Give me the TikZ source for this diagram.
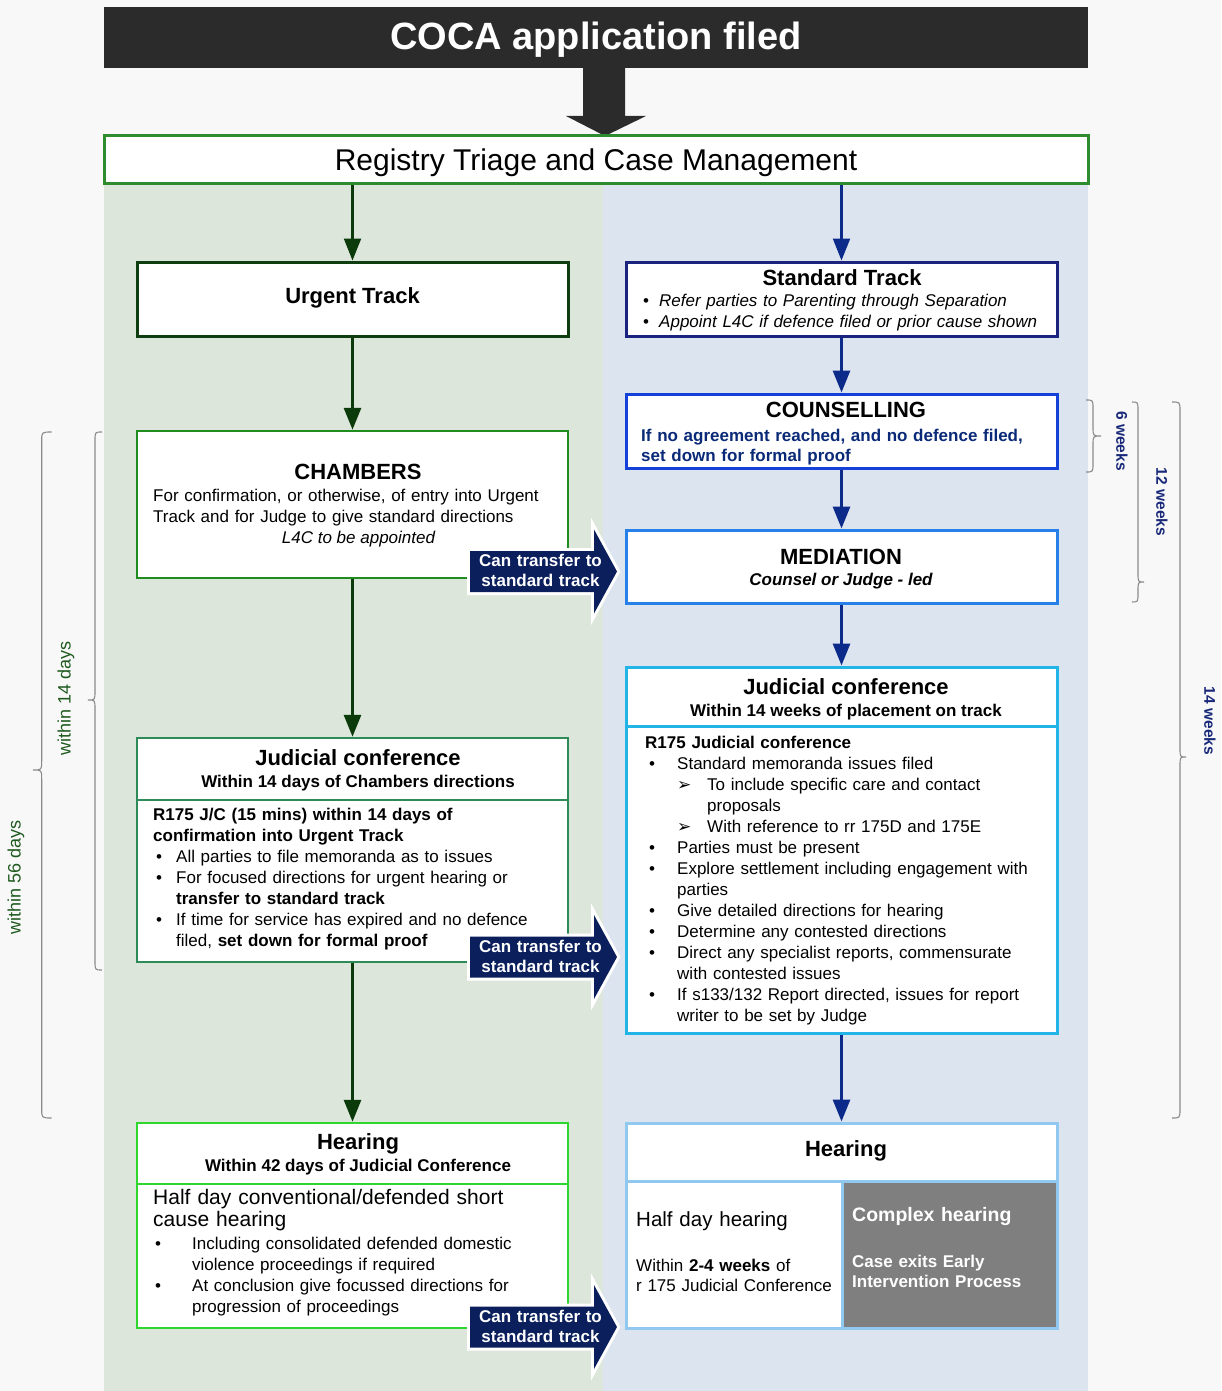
\documentclass[tikz,border=0pt]{standalone}
\usepackage{fontspec}
\setmainfont{Liberation Sans}
\newfontfamily\dejavu{DejaVu Sans}
\usetikzlibrary{arrows.meta}
\newcommand\fs[2]{\fontsize{#1}{#2}\selectfont}
\newcommand\bitem[2]{\hspace*{#1pt}\makebox[#2pt][l]{•}}
\newcommand\myarr[2]{\hspace*{#1pt}\makebox[#2pt][l]{{\dejavu\fs{17}{21}➢}}}
\newcommand\bracedraw[6]{%
  \draw[bracestyle] (#2,#4) .. controls (#1,#4) .. (#1,{#4+9}) -- (#1,{#5-9})
    .. controls (#1,#5) .. (#3,#5) .. controls (#1,#5) .. (#1,{#5+9})
    -- (#1,{#6-9}) .. controls (#1,#6) .. (#2,#6);}
\newcommand\transfer[2]{%
  \path[draw=white, line width=6pt, fill=white] (470,{#1-20.5}) -- (594,{#1-20.5}) -- (594,{#1-42}) -- (617,#1) -- (594,{#1+42}) -- (594,{#1+20.5}) -- (470,{#1+20.5}) -- cycle;
  \fill[navyarr] (470,{#1-20.5}) -- (594,{#1-20.5}) -- (594,{#1-42}) -- (617,#1) -- (594,{#1+42}) -- (594,{#1+20.5}) -- (470,{#1+20.5}) -- cycle;
  \node[tc, text width=150pt, align=center, text=white, font=\bfseries\fs{17}{20}] (#2) at (540.5,{#1-5}) {Can transfer to\\standard track};}

\definecolor{pagebg}{HTML}{F8F8F8}
\definecolor{greenbg}{HTML}{DDE6DB}
\definecolor{bluebg}{HTML}{DCE4F0}
\definecolor{darkbox}{HTML}{2B2B2B}
\definecolor{regg}{HTML}{2E8B2E}
\definecolor{urgg}{HTML}{0E3E10}
\definecolor{chamg}{HTML}{1E8C1E}
\definecolor{jcg}{HTML}{2E8B57}
\definecolor{hearg}{HTML}{2ED62E}
\definecolor{garrc}{HTML}{0B3B0B}
\definecolor{barrc}{HTML}{0C2A8A}
\definecolor{stdb}{HTML}{1A237E}
\definecolor{counb}{HTML}{1442D8}
\definecolor{countext}{HTML}{0A2A78}
\definecolor{medb}{HTML}{2680E8}
\definecolor{jcb}{HTML}{22B4E6}
\definecolor{hearb}{HTML}{90C8F0}
\definecolor{grayb}{HTML}{7F7F7F}
\definecolor{navyarr}{HTML}{0A1F5C}
\definecolor{bracec}{HTML}{8A8A8A}
\definecolor{daylbl}{HTML}{1E5A1E}
\definecolor{wklbl}{HTML}{1A2A7A}

\begin{document}
\begin{tikzpicture}[x=1pt,y=-1pt,
  boxn/.style={draw, fill=white, inner sep=0pt, line width=2.5pt},
  garr/.style={draw=garrc, line width=3pt, -{Triangle[width=17pt,length=22pt]}},
  barr/.style={draw=barrc, line width=3pt, -{Triangle[width=17pt,length=22pt]}},
  tl/.style={inner sep=0pt, anchor=base west, align=left, text width=430pt},
  tc/.style={inner sep=0pt, anchor=base},
  hd/.style={tc, font=\bfseries\fs{22}{24}},
  subhd/.style={tc, font=\bfseries\fs{17}{20}},
  bracestyle/.style={draw=bracec, line width=1.1pt},
  ]
\useasboundingbox (0,0) rectangle (1221,1391);
\fill[pagebg] (0,0) rectangle (1221,1391);
\fill[greenbg] (104,185) rectangle (603,1391);
\fill[bluebg] (603,185) rectangle (1088,1391);

% top
\node[boxn, draw=none, fill=darkbox, minimum width=984pt, minimum height=61pt] (coca) at (596,37.5) {};
\fill[darkbox] (583,68) -- (625,68) -- (625,116) -- (646,116) -- (605,136) -- (566,116) -- (583,116) -- cycle;
\node[boxn, draw=regg, line width=3pt, minimum width=984pt, minimum height=48pt] (registry) at (596,160) {};

% left boxes
\node[boxn, draw=urgg, line width=3pt, minimum width=431pt, minimum height=74pt] (urgent) at (352.5,299) {};
\node[boxn, draw=chamg, minimum width=431pt, minimum height=147pt] (chambers) at (352.5,504.5) {};
\node[boxn, draw=jcg, minimum width=431pt, minimum height=62pt] (jcLtop) at (352.5,769) {};
\node[boxn, draw=jcg, minimum width=431pt, minimum height=162pt] (jcLbot) at (352.5,881) {};
\node[boxn, draw=hearg, minimum width=431pt, minimum height=61pt] (hearLtop) at (352.5,1153.5) {};
\node[boxn, draw=hearg, minimum width=431pt, minimum height=144pt] (hearLbot) at (352.5,1256) {};

% right boxes
\node[boxn, draw=stdb, line width=3pt, minimum width=431pt, minimum height=74pt] (std) at (841.5,299) {};
\node[boxn, draw=counb, line width=3pt, minimum width=431pt, minimum height=74pt] (coun) at (841.5,431) {};
\node[boxn, draw=medb, line width=3pt, minimum width=431pt, minimum height=73pt] (med) at (841.5,566.5) {};
\node[boxn, draw=jcb, line width=3pt, minimum width=431pt, minimum height=59pt] (jcRtop) at (841.5,696.5) {};
\node[boxn, draw=jcb, line width=3pt, minimum width=431pt, minimum height=307pt] (jcRbot) at (841.5,879.5) {};
\node[boxn, draw=hearb, line width=3pt, minimum width=431pt, minimum height=58pt] (hearRtop) at (841.5,1152) {};
\node[boxn, draw=hearb, line width=3pt, minimum width=216pt, minimum height=147pt] (hearRL) at (734,1254.5) {};
\node[boxn, draw=hearb, fill=grayb, line width=3pt, minimum width=215pt, minimum height=147pt] (hearRR) at (949.5,1254.5) {};

% connectors
\draw[garr, line width=2.2pt] (urgent.north |- registry.south) -- (urgent.north);
\draw[garr] (urgent.south) -- (chambers.north);
\draw[garr] (chambers.south) -- (jcLtop.north);
\draw[garr] (jcLbot.south) -- (hearLtop.north);
\draw[barr, line width=2.2pt] (std.north |- registry.south) -- (std.north);
\draw[barr] (std.south) -- (coun.north);
\draw[barr] (coun.south) -- (med.north);
\draw[barr] (med.south) -- (jcRtop.north);
\draw[barr] (jcRbot.south) -- (hearRtop.north);

% texts top
\node[tc, text=white, font=\bfseries\fs{38}{40}] (cocat) at (596,50) {COCA application filed};
\node[tc, font=\fs{30}{32}] (regt) at (596,170.5) {Registry Triage and Case Management};

% left texts
\node[hd] (urgt) at (352.5,303) {Urgent Track};
\node[hd] (chamt) at (358,479) {CHAMBERS};
\node[tl, font=\fs{17}{21}] (chamd) at (153,501.7) {For confirmation, or otherwise, of entry into Urgent\\Track and for Judge to give standard directions};
\node[tc, font=\itshape\fs{17}{21}] (chaml) at (358.5,543) {L4C to be appointed};
\node[hd] (jclt) at (358,765) {Judicial conference};
\node[subhd] (jcls) at (358,787) {Within 14 days of Chambers directions};
\node[tl, font=\fs{17}{21}] (jclb) at (153,820.7) {\textbf{R175 J/C (15 mins) within 14 days of}\\
\textbf{confirmation into Urgent Track}\\
\bitem{3}{20}All parties to file memoranda as to issues\\
\bitem{3}{20}For focused directions for urgent hearing or\\
\hspace*{23pt}\textbf{transfer to standard track}\\
\bitem{3}{20}If time for service has expired and no defence\\
\hspace*{23pt}filed, \textbf{set down for formal proof}};
\node[hd] (hlt) at (358,1149) {Hearing};
\node[subhd] (hls) at (358,1171.7) {Within 42 days of Judicial Conference};
\node[tl, font=\fs{21}{22.7}] (hlh) at (153,1204) {Half day conventional/defended short\\cause hearing};
\node[tl, font=\fs{17}{20.9}] (hlb) at (153,1249.3) {\bitem{2}{37}Including consolidated defended domestic\\
\hspace*{39pt}violence proceedings if required\\
\bitem{2}{37}At conclusion give focussed directions for\\
\hspace*{39pt}progression of proceedings};

% right texts
\node[hd] (stdt) at (842,285) {Standard Track};
\node[tl, font=\itshape\fs{17}{21}] (stdl) at (643,306.7) {\makebox[16pt][l]{\upshape•}Refer parties to Parenting through Separation\\
\makebox[16pt][l]{\upshape•}Appoint L4C if defence filed or prior cause shown};
\node[hd] (count) at (846,417.7) {COUNSELLING};
\node[tl, text=countext, font=\bfseries\fs{17}{20.3}] (cound) at (641,441) {If no agreement reached, and no defence filed,\\set down for formal proof};
\node[hd] (medt) at (841,564) {MEDIATION};
\node[tc, font=\bfseries\itshape\fs{17}{20}] (medd) at (841,585) {Counsel or Judge - led};
\node[hd] (jcrt) at (846,694) {Judicial conference};
\node[subhd] (jcrs) at (846,716.7) {Within 14 weeks of placement on track};
\node[tl, font=\fs{17}{21}] (jcrb) at (645,748.3) {\textbf{R175 Judicial conference}\\
\bitem{4}{28}Standard memoranda issues filed\\
\myarr{32}{30}To include specific care and contact\\
\hspace*{62pt}proposals\\
\myarr{32}{30}With reference to rr 175D and 175E\\
\bitem{4}{28}Parties must be present\\
\bitem{4}{28}Explore settlement including engagement with\\
\hspace*{32pt}parties\\
\bitem{4}{28}Give detailed directions for hearing\\
\bitem{4}{28}Determine any contested directions\\
\bitem{4}{28}Direct any specialist reports, commensurate\\
\hspace*{32pt}with contested issues\\
\bitem{4}{28}If s133/132 Report directed, issues for report\\
\hspace*{32pt}writer to be set by Judge};
\node[hd] (hrt) at (846,1156.7) {Hearing};
\node[tl, font=\fs{20.5}{22}] (hrh) at (636,1226.7) {Half day hearing};
\node[tl, font=\fs{17}{20}] (hrw) at (636,1271.7) {Within \textbf{2-4 weeks} of\\r 175 Judicial Conference};
\node[tl, text=white, font=\bfseries\fs{19.5}{22}] (hrc) at (852,1221.7) {Complex hearing};
\node[tl, text=white, font=\bfseries\fs{17}{20}] (hre) at (852,1267.3) {Case exits Early\\Intervention Process};

% transfer arrows
\transfer{571.5}{tr1}
\transfer{957}{tr2}
\transfer{1327}{tr3}

% braces
\bracedraw{41.7}{51.7}{33}{432}{770}{1118}
\bracedraw{95}{102}{88}{432}{700}{970}
\bracedraw{1093}{1086}{1101}{400}{436}{472}
\bracedraw{1138}{1132}{1144}{402}{582}{602}
\bracedraw{1180}{1172}{1186}{402}{757}{1118}
\node[rotate=90, inner sep=0pt, text=daylbl, font=\fs{18}{20}] (w14) at (66,698) {within 14 days};
\node[rotate=90, inner sep=0pt, text=daylbl, font=\fs{18}{20}] (w56) at (16,877) {within 56 days};
\node[rotate=-90, inner sep=0pt, text=wklbl, font=\bfseries\fs{15.5}{18}] (w6) at (1122,441) {6 weeks};
\node[rotate=-90, inner sep=0pt, text=wklbl, font=\bfseries\fs{15.5}{18}] (w12) at (1162,502) {12 weeks};
\node[rotate=-90, inner sep=0pt, text=wklbl, font=\bfseries\fs{15.5}{18}] (w14w) at (1210,721) {14 weeks};
\end{tikzpicture}
\end{document}
